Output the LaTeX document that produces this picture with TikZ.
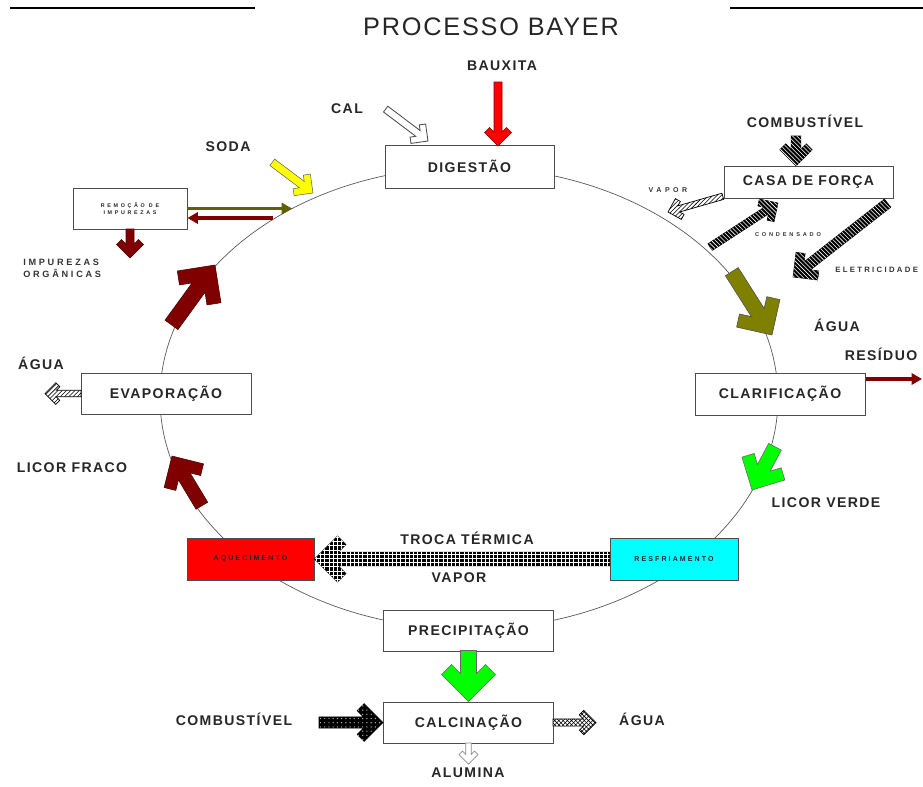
\documentclass[tikz,border=0pt]{standalone}
\usepackage{fontspec}
\setmainfont{Liberation Sans}
\newfontfamily\lblfont[LetterSpace=10]{Liberation Sans}
\newfontfamily\smlfont[LetterSpace=30]{Liberation Sans}
\newfontfamily\tinyfont[LetterSpace=50]{Liberation Sans}
\newfontfamily\ttlfont[LetterSpace=7]{Liberation Sans}
\usetikzlibrary{arrows.meta,patterns,positioning}

\definecolor{brick}{RGB}{128,0,0}
\definecolor{oliva}{RGB}{128,128,0}
\definecolor{verde}{RGB}{0,255,0}
\definecolor{amarelo}{RGB}{255,255,0}
\definecolor{vermelho}{RGB}{255,0,0}
\definecolor{ciano}{RGB}{0,255,255}

\tikzset{
  pics/fat/.style n args={3}{code={
    \path[#3] (0,0) -- ({-27*#2},{27*#2}) -- ({-37*#2},{17*#2}) -- ({-28*#2},{8*#2})
      -- ({-#1},{8*#2}) -- ({-#1},{-8*#2}) -- ({-28*#2},{-8*#2})
      -- ({-37*#2},{-17*#2}) -- ({-27*#2},{-27*#2}) -- cycle;
  }}
}

\begin{document}
\begin{tikzpicture}[
    x=0.25mm, y=0.25mm,
    box/.style={rectangle, draw=black!70, line width=0.7pt, fill=white, minimum width=42.5mm, minimum height=10.25mm, inner sep=0pt, text=black!85, font=\lblfont\bfseries\fontsize{10}{12}\selectfont},
    lbl/.style={font=\lblfont\bfseries\fontsize{10}{12}\selectfont, text=black!85, inner sep=0pt},
    sml/.style={font=\smlfont\bfseries\fontsize{6.5}{8.5}\selectfont, text=black!80, inner sep=0pt, align=left},
    tinytxt/.style={font=\tinyfont\bfseries\fontsize{5}{6}\selectfont, text=black!80, inner sep=0pt, align=center},
    thinarrow/.style={line width=0.8mm, -{Triangle[length=2.6mm, width=2.8mm]}},
    brickfill/.style={fill=brick, draw=brick!60!black, line width=0.4pt},
    olivefill/.style={fill=oliva, draw=black!70, line width=0.4pt},
    greenfill/.style={fill=verde, draw=black!60, line width=0.4pt},
    yellowfill/.style={fill=amarelo, draw=black!60, line width=0.4pt},
    redfill/.style={fill=vermelho, draw=brick, line width=0.4pt},
    hollowfill/.style={fill=white, draw=black!70, line width=0.6pt},
    palefill/.style={fill=white, draw=black!45, line width=0.5pt},
    hatchfill/.style={fill=white, draw=black, line width=0.5pt, postaction={pattern=north east lines, pattern color=black}},
    darkhatchfill/.style={fill=black, draw=black, line width=0.4pt, postaction={pattern=north west lines, pattern color=white}},
    gridfill/.style={fill=black, draw=black, line width=0.4pt, postaction={pattern=grid, pattern color=white}},
    dotfill/.style={fill=black, draw=black, line width=0.4pt, postaction={pattern=dots, pattern color=white!70!black}},
    checkfill/.style={fill=white, draw=black, line width=0.5pt, postaction={pattern=crosshatch, pattern color=black}}
]
    \useasboundingbox (0,0) rectangle (923,-786);
    \clip (0,0) rectangle (923,-786);

    \draw[line width=0.5mm] (10,-8) -- (255,-8);
    \draw[line width=0.5mm] (730,-8) -- (923,-8);
    \node[font=\ttlfont\fontsize{18}{20}\selectfont, text=black!85] (title) at (491,-27) {PROCESSO BAYER};

    \draw[draw=black!65, line width=0.5pt] (469,-398) ellipse [x radius=309, y radius=231];

    \node[box, minimum width=42.25mm, minimum height=10.75mm] (digestao) at (469.5,-166.5) {DIGESTÃO};
    \node[box, minimum width=42.25mm, minimum height=8mm] (casa) at (808.5,-182) {CASA DE FORÇA};
    \node[box, minimum width=28.5mm, align=center, font=\tinyfont\bfseries\fontsize{3.8}{4.8}\selectfont] (remocao) at (130,-208.5) {REMOÇÃO DE\\IMPUREZAS};
    \node[box] (evap) at (166,-393.5) {EVAPORAÇÃO};
    \node[box, minimum height=10.5mm] (clarif) at (780,-394) {CLARIFICAÇÃO};
    \node[box, fill=vermelho, minimum width=31.75mm, minimum height=10.5mm, font=\smlfont\bfseries\fontsize{5}{6}\selectfont] (aquec) at (250.5,-559) {AQUECIMENTO};
    \node[box, fill=ciano, minimum width=32mm, minimum height=10.5mm, font=\smlfont\bfseries\fontsize{5}{6}\selectfont] (resfr) at (674,-559) {RESFRIAMENTO};
    \node[box] (precip) at (468.5,-630.5) {PRECIPITAÇÃO};
    \node[box] (calcin) at (468.5,-722.5) {CALCINAÇÃO};

    \node[lbl] (bauxita) at (502,-66) {BAUXITA};
    \node[lbl] (cal) at (347,-109) {CAL};
    \node[lbl] (soda) at (228,-147) {SODA};
    \node[lbl] (combA) at (805,-121) {COMBUSTÍVEL};
    \node[tinytxt] (vaporA) at (668,-190) {VAPOR};
    \node[tinytxt, font=\tinyfont\bfseries\fontsize{4}{5}\selectfont] (condens) at (788,-235) {CONDENSADO};
    \node[sml, anchor=west, font=\smlfont\bfseries\fontsize{5.5}{6.5}\selectfont] (eletric) at (835,-270) {ELETRICIDADE};
    \node[sml, anchor=west] (impurezas) at (23,-268) {IMPUREZAS\\ORGÂNICAS};
    \node[lbl] (aguaA) at (837,-325) {ÁGUA};
    \node[lbl] (residuo) at (881,-354) {RESÍDUO};
    \node[lbl] (aguaB) at (41,-363) {ÁGUA};
    \node[lbl] (fraco) at (72,-468) {LICOR FRACO};
    \node[lbl] (verdeL) at (826,-503) {LICOR VERDE};
    \node[lbl] (troca) at (467,-538) {TROCA TÉRMICA};
    \node[lbl] (vaporB) at (459,-578) {VAPOR};
    \node[lbl] (combB) at (234,-719) {COMBUSTÍVEL};
    \node[lbl] (aguaC) at (642,-719) {ÁGUA};
    \node[lbl] (alumina) at (468,-773) {ALUMINA};

    \coordinate (remOut) at (292,-208.5);
    \coordinate (remIn) at (273,-218);
    \coordinate (resOut) at (922,-379);

    \draw[thinarrow, oliva!75!black] (remocao.east) -- (remOut);
    \draw[thinarrow, brick] (remIn) -- (remocao.east |- remIn);
    \draw[thinarrow, brick] (clarif.east |- resOut) -- (resOut);

    \pic[rotate=-90] at (498,-146) {fat={64}{0.5}{redfill}};
    \pic[rotate=-37] at (428,-141) {fat={53}{0.45}{hollowfill}};
    \pic[rotate=-37] at (313,-193) {fat={51}{0.5}{yellowfill}};
    \pic[rotate=-90] at (130,-258) {fat={29}{0.5}{brickfill}};
    \pic[rotate=54] at (215,-265) {fat={74}{1}{brickfill}};
    \pic[rotate=121] at (172,-456) {fat={58}{0.85}{brickfill}};
    \pic[rotate=-57.6] at (772,-335) {fat={75}{0.95}{olivefill}};
    \pic[rotate=-118] at (752,-490) {fat={49}{0.9}{greenfill}};
    \pic[rotate=-90] at (precip.south |- calcin.north) {fat={51}{1}{greenfill}};
    \pic at (calcin.west) {fat={64}{0.7}{dotfill}};
    \pic at (596,-722.5) {fat={43}{0.45}{checkfill}};
    \pic[rotate=-90] at (468.5,-764) {fat={21}{0.35}{palefill}};
    \pic[rotate=180] at (aquec.east) {fat={295}{0.85}{gridfill}};
    \pic[rotate=180] at (45,-393.5) {fat={36}{0.4}{hatchfill}};
    \pic[rotate=-90] at (796,-166) {fat={30}{0.6}{darkhatchfill}};
    \pic[rotate=196] at (668,-212) {fat={57}{0.4}{hatchfill}};
    \pic[rotate=33] at (778,-203) {fat={81}{0.5}{darkhatchfill}};
    \pic[rotate=218] at (793,-277) {fat={120}{0.65}{darkhatchfill}};
\end{tikzpicture}
\end{document}
